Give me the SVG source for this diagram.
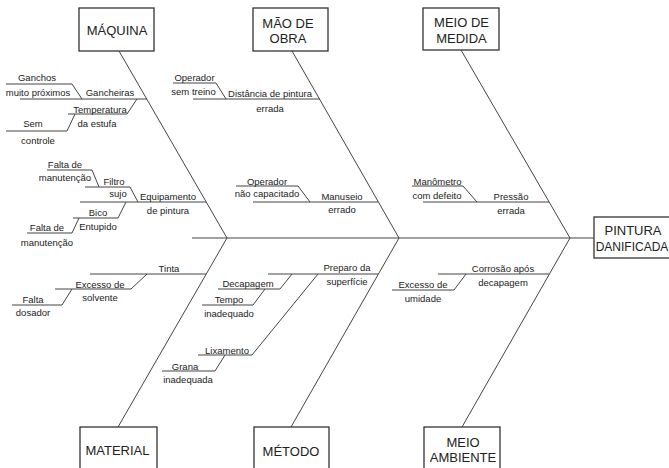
<svg xmlns="http://www.w3.org/2000/svg" width="669" height="468" viewBox="0 0 669 468">
<style>
.box{fill:#fff;stroke:#333;stroke-width:1.3}
.bt{font-family:"Liberation Sans",Arial,sans-serif;font-size:13px;fill:#222;text-anchor:middle}
.t{font-family:"Liberation Sans",Arial,sans-serif;font-size:9.5px;fill:#222;text-anchor:middle}
.ln{fill:none;stroke:#444;stroke-width:1}
</style>
<rect width="669" height="468" fill="#fff"/>
<g id="connectors" class="ln">
<line x1="192" y1="238" x2="594" y2="238"/>
<line x1="119" y1="51" x2="227" y2="238"/>
<line x1="292" y1="51" x2="399" y2="238"/>
<line x1="461" y1="50" x2="570" y2="238"/>
<line x1="118" y1="427" x2="227" y2="238"/>
<line x1="291" y1="427" x2="399" y2="238"/>
<line x1="462" y1="427" x2="570" y2="238"/>
<line x1="20" y1="99" x2="147" y2="99"/>
<polyline points="6,84 72,84 82,99"/>
<polyline points="68,114 127,114 137,99"/>
<polyline points="6,131 67,131 75,114"/>
<line x1="80" y1="202" x2="206" y2="202"/>
<polyline points="85,187 130,187 138,202"/>
<polyline points="47,170 92,170 99,187"/>
<polyline points="73,218 118,218 126,202"/>
<polyline points="27,233 72,233 79,218"/>
<line x1="193" y1="99" x2="320" y2="99"/>
<polyline points="173,83 216,83 226,99"/>
<line x1="253" y1="202" x2="378" y2="202"/>
<polyline points="236,186 298,186 310,202"/>
<line x1="423" y1="202" x2="549" y2="202"/>
<polyline points="412,186 463,186 477,202"/>
<line x1="90" y1="274" x2="206" y2="274"/>
<polyline points="55,289 131,289 147,274"/>
<polyline points="12,305 62,305 72,289"/>
<line x1="268" y1="274" x2="378" y2="274"/>
<polyline points="218,289 280,289 292,274"/>
<polyline points="202,305 253,305 265,289"/>
<polyline points="198,355 252,355 318,274"/>
<polyline points="162,371 215,371 225,355"/>
<line x1="438" y1="274" x2="549" y2="274"/>
<polyline points="392,290 454,290 466,274"/>
</g>
<g id="maquina"><rect class="box" x="79" y="8" width="75" height="43"/><text class="bt" x="117" y="34.5">MÁQUINA</text></g>
<g id="mao-de-obra"><rect class="box" x="253" y="8" width="75" height="43"/><text class="bt" x="288" y="28">MÃO DE</text><text class="bt" x="288" y="43">OBRA</text></g>
<g id="meio-de-medida"><rect class="box" x="423" y="8" width="76" height="42"/><text class="bt" x="461.5" y="27">MEIO DE</text><text class="bt" x="461.5" y="42.5">MEDIDA</text></g>
<g id="pintura-danificada"><rect class="box" x="594" y="217" width="85" height="41"/><text class="bt" x="633" y="234.5">PINTURA</text><text class="bt" x="632" y="251" style="font-size:12px">DANIFICADA</text></g>
<g id="material"><rect class="box" x="80" y="427" width="77" height="50"/><text class="bt" x="117.5" y="455">MATERIAL</text></g>
<g id="metodo"><rect class="box" x="254" y="427" width="75" height="50"/><text class="bt" x="291" y="455.5">MÉTODO</text></g>
<g id="meio-ambiente"><rect class="box" x="424" y="427" width="76" height="50"/><text class="bt" x="463" y="446.5">MEIO</text><text class="bt" x="463" y="462">AMBIENTE</text></g>
<g id="causes-maquina">
<text class="t" x="37" y="80.5">Ganchos</text>
<text class="t" x="38" y="96">muito próximos</text>
<text class="t" x="110" y="96">Gancheiras</text>
<text class="t" x="100" y="113">Temperatura</text>
<text class="t" x="97" y="126.5">da estufa</text>
<text class="t" x="33" y="127">Sem</text>
<text class="t" x="38" y="143.5">controle</text>
<text class="t" x="65" y="168">Falta de</text>
<text class="t" x="65" y="180.5">manutenção</text>
<text class="t" x="114" y="184.5">Filtro</text>
<text class="t" x="118" y="196.5">sujo</text>
<text class="t" x="168" y="200">Equipamento</text>
<text class="t" x="168" y="213.5">de pintura</text>
<text class="t" x="98" y="215.5">Bico</text>
<text class="t" x="98" y="229.5">Entupido</text>
<text class="t" x="47" y="231">Falta de</text>
<text class="t" x="47" y="245.5">manutenção</text>
</g>
<g id="causes-mao-de-obra">
<text class="t" x="194.5" y="80.5">Operador</text>
<text class="t" x="193.5" y="94.5">sem treino</text>
<text class="t" x="270" y="97">Distância de pintura</text>
<text class="t" x="270" y="111.5">errada</text>
<text class="t" x="267" y="184.5">Operador</text>
<text class="t" x="267" y="196.5">não capacitado</text>
<text class="t" x="342" y="199.5">Manuseio</text>
<text class="t" x="342" y="212.5">errado</text>
</g>
<g id="causes-meio-de-medida">
<text class="t" x="437.5" y="184.5">Manômetro</text>
<text class="t" x="437" y="198.5">com defeito</text>
<text class="t" x="511" y="199.5">Pressão</text>
<text class="t" x="511" y="214">errada</text>
</g>
<g id="causes-material">
<text class="t" x="169" y="271.5">Tinta</text>
<text class="t" x="100" y="287.5">Excesso de</text>
<text class="t" x="100" y="300.5">solvente</text>
<text class="t" x="33" y="303">Falta</text>
<text class="t" x="33" y="316">dosador</text>
</g>
<g id="causes-metodo">
<text class="t" x="347" y="270.5">Preparo da</text>
<text class="t" x="347" y="284.5">superfície</text>
<text class="t" x="248" y="286.5">Decapagem</text>
<text class="t" x="229" y="303">Tempo</text>
<text class="t" x="229" y="316.5">inadequado</text>
<text class="t" x="227" y="353.5">Lixamento</text>
<text class="t" x="185" y="369.5">Grana</text>
<text class="t" x="188" y="382.5">inadequada</text>
</g>
<g id="causes-meio-ambiente">
<text class="t" x="503" y="272">Corrosão após</text>
<text class="t" x="503" y="285.5">decapagem</text>
<text class="t" x="423" y="288">Excesso de</text>
<text class="t" x="423" y="301.5">umidade</text>
</g>
</svg>
